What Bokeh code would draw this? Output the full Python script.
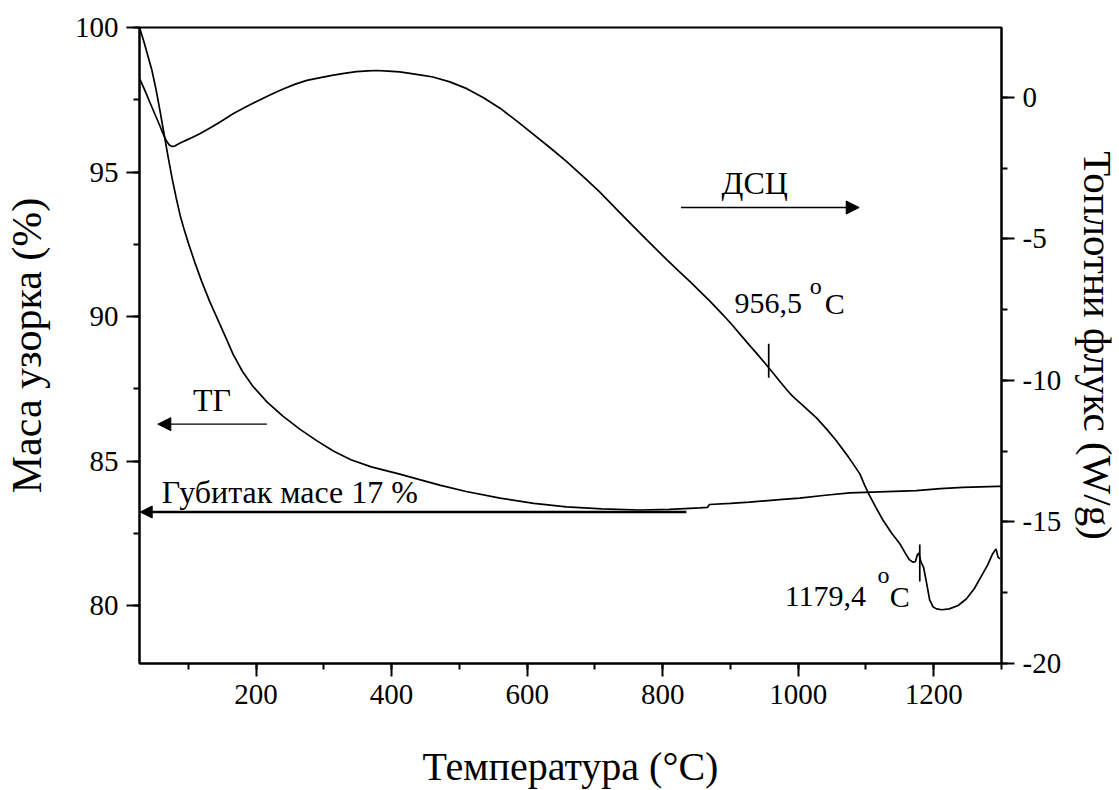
from bokeh.plotting import figure
from bokeh.models import (Range1d, LinearAxis, SingleIntervalTicker, Arrow, NormalHead,
                          PrintfTickFormatter)
from bokeh.core.properties import value
from bokeh.embed import file_html
from bokeh.resources import INLINE

# ---- data ----
tg_temp = [28, 34, 40, 46, 52, 58, 64, 70, 76, 82, 88, 94, 100, 110, 120, 132, 145, 156,
           166, 180, 195, 216, 240, 265, 290, 314, 340, 370, 412, 440, 471, 510, 560, 610,
           658, 710, 766, 810, 855, 866, 869, 900, 928, 977, 1002, 1040, 1076, 1120, 1174,
           1210, 1243, 1294, 1300]
tg_mass = [100.0, 99.55, 99.05, 98.55, 97.9, 97.15, 96.35, 95.55, 94.8, 94.12, 93.5, 93.0,
           92.55, 91.85, 91.2, 90.5, 89.82, 89.24, 88.7, 88.1, 87.6, 87.05, 86.55, 86.1,
           85.7, 85.35, 85.05, 84.8, 84.55, 84.37, 84.17, 83.95, 83.72, 83.54, 83.42, 83.35,
           83.31, 83.33, 83.38, 83.4, 83.5, 83.54, 83.58, 83.68, 83.72, 83.82, 83.9, 83.94,
           83.98, 84.05, 84.09, 84.13, 84.13]

dsc_temp = [28, 35, 42, 50, 58, 64, 68, 72, 76, 80, 86, 92, 98, 108, 117, 130, 142, 154,
            166, 186, 206, 222, 240, 258, 275, 295, 314, 330, 348, 365, 378, 395, 412, 427,
            444, 461, 486, 511, 535, 560, 584, 608, 633, 658, 682, 707, 731, 756, 781, 806,
            823, 840, 855, 869, 889, 903, 915, 928, 940, 952, 965, 977, 985, 992, 1010, 1027,
            1042, 1056, 1074, 1091, 1098, 1105, 1115, 1125, 1138, 1150, 1158, 1164, 1169,
            1173, 1176, 1178, 1181, 1185, 1189, 1194, 1199, 1204, 1212, 1223, 1236, 1248,
            1260, 1272, 1280, 1287, 1292, 1295, 1298]
dsc_flux = [0.67, 0.3, -0.1, -0.55, -1.0, -1.35, -1.55, -1.68, -1.73, -1.72, -1.64, -1.57,
            -1.5, -1.39, -1.28, -1.11, -0.94, -0.76, -0.58, -0.32, -0.08, 0.1, 0.3, 0.47, 0.6,
            0.7, 0.79, 0.85, 0.91, 0.94, 0.95, 0.93, 0.9, 0.85, 0.79, 0.72, 0.55, 0.31, 0.0,
            -0.38, -0.82, -1.28, -1.76, -2.26, -2.78, -3.34, -3.93, -4.54, -5.14, -5.73,
            -6.12, -6.5, -6.85, -7.18, -7.68, -8.05, -8.39, -8.75, -9.08, -9.42, -9.8, -10.15,
            -10.38, -10.56, -10.95, -11.32, -11.72, -12.12, -12.7, -13.3, -13.7, -14.05,
            -14.5, -14.93, -15.4, -15.77, -16.1, -16.33, -16.42, -16.4, -16.15, -16.1, -16.4,
            -16.6, -17.1, -17.75, -18.0, -18.07, -18.1, -18.07, -17.95, -17.72, -17.35,
            -16.84, -16.5, -16.12, -15.95, -16.25, -16.3]

events = [956.5, 1179.4]
event_top = [-8.7, -15.8]
event_bottom = [-9.9, -17.1]
event_labels = ["956,5", "1179,4"]

x_title = "Температура (°C)"
left_title = "Маса узорка (%)"
right_title = "Топлотни флукс (W/g)"

SERIF = "Liberation Serif"

p = figure(frame_width=862, frame_height=636,
           x_range=Range1d(28, 1300), y_range=Range1d(78, 100),
           output_backend="svg", toolbar_location=None,
           min_border_left=139, min_border_right=118,
           min_border_top=27, min_border_bottom=127)
p.extra_y_ranges = {"dsc": Range1d(-20, 2.47)}

p.xgrid.visible = False
p.ygrid.visible = False
p.outline_line_color = "black"
p.outline_line_width = 2
p.background_fill_color = "white"
p.border_fill_color = "white"

p.xaxis.ticker = SingleIntervalTicker(interval=200, num_minor_ticks=2)
p.yaxis.ticker = SingleIntervalTicker(interval=5, num_minor_ticks=2)
right = LinearAxis(y_range_name="dsc",
                   ticker=SingleIntervalTicker(interval=5, num_minor_ticks=2),
                   formatter=PrintfTickFormatter(format="%d"))
p.add_layout(right, "right")

p.xaxis.axis_label = x_title
p.yaxis.axis_label = left_title
right.axis_label = right_title

for ax in [p.xaxis[0], p.yaxis[0], right]:
    ax.axis_line_width = 2
    ax.major_tick_line_width = 2
    ax.minor_tick_line_width = 2
    ax.major_tick_in = 0
    ax.major_tick_out = 13
    ax.minor_tick_in = 0
    ax.minor_tick_out = 6
    ax.major_label_text_font = SERIF
    ax.major_label_text_font_size = "29px"
    ax.major_label_text_color = "black"
    ax.major_label_standoff = 8
    ax.axis_label_text_font = SERIF
    ax.axis_label_text_font_style = "normal"
    ax.axis_label_text_color = "black"

p.xaxis[0].axis_label_text_font_size = "40px"
p.xaxis[0].axis_label_standoff = 37
p.yaxis[0].axis_label_text_font_size = "42px"
p.yaxis[0].axis_label_standoff = 22
right.axis_label_text_font_size = "41px"
right.axis_label_standoff = 11

# curves
p.line(tg_temp, tg_mass, line_color="black", line_width=1.7)
p.line(dsc_temp, dsc_flux, line_color="black", line_width=1.7, y_range_name="dsc")

# event markers
p.segment(x0=events, y0=event_top, x1=events, y1=event_bottom,
          line_color="black", line_width=1.7, y_range_name="dsc")

# arrows
p.add_layout(Arrow(end=NormalHead(size=13, fill_color="black", line_color="black"),
                   x_start=827, y_start=-3.89, x_end=1090, y_end=-3.89,
                   line_width=1.3, y_range_name="dsc"))
p.add_layout(Arrow(end=NormalHead(size=13, fill_color="black", line_color="black"),
                   x_start=216, y_start=86.28, x_end=55, y_end=86.28, line_width=1.3))
p.add_layout(Arrow(end=NormalHead(size=12, fill_color="black", line_color="black"),
                   x_start=835, y_start=83.24, x_end=29, y_end=83.24, line_width=2.5))

def txt(x, y, s, size="32px", rng="default"):
    p.text(x=[x], y=[y], text=[s], text_font=value(SERIF), text_font_size=value(size),
           text_align="left", text_baseline="alphabetic", text_color="black",
           y_range_name=rng)

txt(887, -3.04, "ДСЦ", rng="dsc")
txt(107, 87.10, "ТГ")
txt(61, 83.93, "Губитак масе 17 %")
txt(906, -7.28, event_labels[0], size="30px", rng="dsc")
txt(1017, -6.65, "o", size="24px", rng="dsc")
txt(1039, -7.28, "C", size="30px", rng="dsc")
txt(980, -17.64, event_labels[1], size="30px", rng="dsc")
txt(1117, -16.89, "o", size="24px", rng="dsc")
txt(1135, -17.64, "C", size="30px", rng="dsc")

open("out.html", "w").write(file_html(p, INLINE))
